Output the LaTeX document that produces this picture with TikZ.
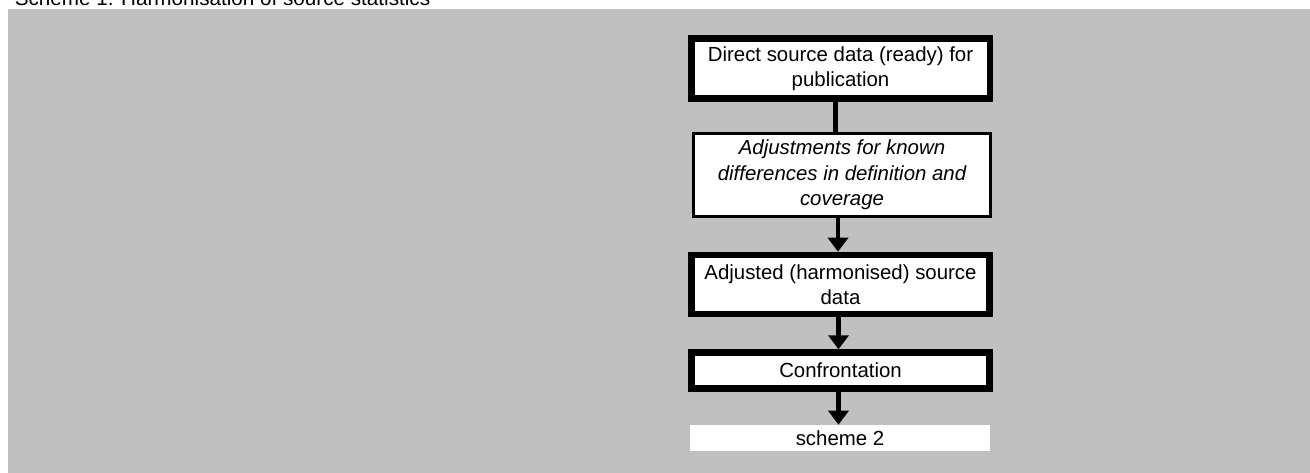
\documentclass[tikz,border=0pt]{standalone}
\usepackage{fontspec}
\setmainfont{Liberation Sans}
\usetikzlibrary{arrows.meta}
\definecolor{bggray}{RGB}{192,192,192}
\tikzset{
  thickbox/.style={draw=black, fill=white, line width=4.9pt, inner sep=0pt, align=center,
    font=\fontsize{15.3pt}{18.75pt}\selectfont},
  thinbox/.style={draw=black, fill=white, line width=1.9pt, inner sep=0pt, align=center,
    font=\fontsize{15.3pt}{19.1pt}\selectfont\itshape},
  plainbox/.style={fill=white, inner sep=0pt, align=center,
    font=\fontsize{15.3pt}{18.75pt}\selectfont},
  link/.style={draw=black, line width=3.4pt},
  arrowlink/.style={link, -{Triangle[width=15pt,length=10.5pt]}},
  titletext/.style={inner sep=0pt, anchor=base west, font=\fontsize{15.5pt}{18pt}\selectfont}
}
\begin{document}
\begin{tikzpicture}[x=0.75pt,y=-0.75pt]
\useasboundingbox (0,0) rectangle (1310,473);
\fill[white] (0,0) rectangle (1310,473);
\fill[bggray] (8,9) rectangle (1310,473);
\node[titletext] (title) at (14.5,5.5) {Scheme 1: Harmonisation of source statistics};

\node[thickbox, minimum width=223.9pt, minimum height=45.15pt] (b1) at (840.5,68.35)
  {Direct source data (ready) for\\publication};
\node[thinbox, minimum width=222.7pt, minimum height=62.6pt] (b2) at (842,175)
  {Adjustments for known\\ differences in definition and\\ coverage};
\node[thickbox, minimum width=223.4pt, minimum height=44.3pt] (b3) at (840.5,284.5)
  {Adjusted (harmonised) source\\data};
\node[thickbox, minimum width=223.4pt, minimum height=26.9pt] (b4) at (840.5,370.5)
  {Confrontation};
\node[plainbox, minimum width=225pt, minimum height=19.3pt] (b5) at (840,437.85)
  {scheme 2};

\draw[link] ([xshift=-3.9pt]b1.south) -- ([xshift=-3.9pt]b1.south |- b2.north);
\draw[arrowlink] ([xshift=-3pt]b2.south) -- ([xshift=-3pt]b2.south |- b3.north);
\draw[arrowlink] ([xshift=-1.5pt]b3.south) -- ([xshift=-1.5pt]b3.south |- b4.north);
\draw[arrowlink] ([xshift=-1.5pt]b4.south) -- ([xshift=-1.5pt]b4.south |- b5.north);
\end{tikzpicture}
\end{document}
